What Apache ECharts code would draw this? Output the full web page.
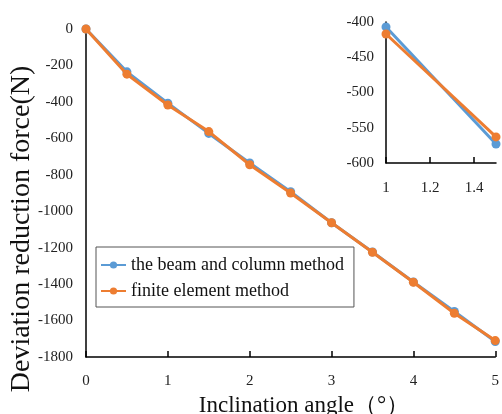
<!DOCTYPE html>
<html>
<head>
<meta charset="utf-8">
<script src="https://cdn.jsdelivr.net/npm/echarts@6/dist/echarts.min.js"></script>
<style>html,body{margin:0;padding:0;background:#fff;}#c{width:502px;height:414px;}</style>
</head>
<body>
<div id="c"></div>
<script>
const angles = [0, 0.5, 1, 1.5, 2, 2.5, 3, 3.5, 4, 4.5, 5];
const beamColumn = [0, -235, -407, -573, -735, -893, -1063, -1224, -1388, -1550, -1715];
const finiteElement = [0, -248, -417, -563, -745, -900, -1063, -1225, -1390, -1560, -1710];
const seriesNames = ['the beam and column method', 'finite element method'];
const yTitle = 'Deviation reduction force(N)';
const xTitle = 'Inclination angle（°）';

const serif = '"Liberation Serif", "Times New Roman", serif';
const blue = '#5B9BD5', orange = '#ED7D31';
const pairs = a => angles.map((x, i) => [x, a[i]]);

const chart = echarts.init(document.getElementById('c'));
const axisLine = {show: true, onZero: false, lineStyle: {color: '#000', width: 1.5}};
const mkSeries = (name, data, color, xi, yi, z) => ({
  name, type: 'line', data, xAxisIndex: xi, yAxisIndex: yi, z,
  symbol: 'circle', symbolSize: 9, showSymbol: true,
  lineStyle: {color, width: 3}, itemStyle: {color}, clip: true
});
const plain = v => String(Math.round(v));
chart.setOption({
  animation: false,
  textStyle: {fontFamily: serif},
  grid: [
    {left: 86, top: 29, width: 417, height: 328},
    {left: 386, top: 22, width: 110, height: 141}
  ],
  legend: {
    left: 96, top: 247, orient: 'vertical',
    padding: [9, 10, 7, 4], itemGap: 8,
    borderColor: '#555', borderWidth: 1, itemWidth: 25, itemHeight: 9,
    textStyle: {fontFamily: serif, fontSize: 18, color: '#111'},
    data: seriesNames
  },
  xAxis: [
    {type: 'value', gridIndex: 0, min: 0, max: 5, interval: 1,
     axisLine, splitLine: {show: false},
     axisTick: {show: true, inside: true, length: 6, lineStyle: {color: '#000', width: 1.5}},
     axisLabel: {fontFamily: serif, fontSize: 15, color: '#222', margin: 17,
       showMaxLabel: true}},
    {type: 'value', gridIndex: 1, min: 1, max: 1.5, interval: 0.2,
     axisLine, splitLine: {show: false},
     axisTick: {show: true, inside: true, length: 6, lineStyle: {color: '#000', width: 1.5}},
     axisLabel: {fontFamily: serif, fontSize: 15, color: '#222', margin: 18,
       showMaxLabel: false, formatter: v => (Math.abs(v - 1) < 1e-9 ? '1' : v.toFixed(1))}}
  ],
  yAxis: [
    {type: 'value', gridIndex: 0, min: -1800, max: 0, interval: 200,
     axisLine, splitLine: {show: false}, axisTick: {show: false},
     axisLabel: {fontFamily: serif, fontSize: 15, color: '#222', margin: 13, formatter: plain}},
    {type: 'value', gridIndex: 1, min: -600, max: -400, interval: 50,
     axisLine, splitLine: {show: false}, axisTick: {show: false},
     axisLabel: {fontFamily: serif, fontSize: 15, color: '#222', margin: 12, formatter: plain}}
  ],
  graphic: [
    {type: 'text', rotation: Math.PI / 2, x: 22, y: 229,
     style: {text: yTitle, font: '28px ' + serif, fill: '#111', align: 'center', verticalAlign: 'middle'}},
    {type: 'text', x: 304, y: 406,
     style: {text: xTitle, font: '23px ' + serif, fill: '#111', align: 'center', verticalAlign: 'middle'}}
  ],
  series: [
    mkSeries(seriesNames[0], pairs(beamColumn), blue, 0, 0, 2),
    mkSeries(seriesNames[1], pairs(finiteElement), orange, 0, 0, 3),
    mkSeries(seriesNames[0], pairs(beamColumn).filter(p => p[0] >= 1 && p[0] <= 1.5), blue, 1, 1, 2),
    mkSeries(seriesNames[1], pairs(finiteElement).filter(p => p[0] >= 1 && p[0] <= 1.5), orange, 1, 1, 3)
  ]
});
</script>
</body>
</html>
